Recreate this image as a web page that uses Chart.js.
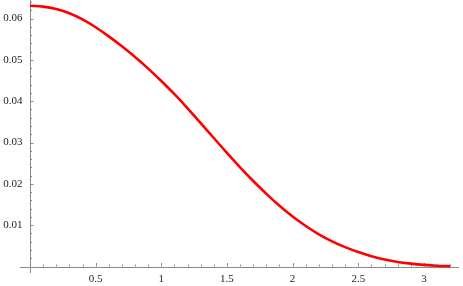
<!DOCTYPE html>
<html>
<head>
<meta charset="utf-8">
<script src="https://cdn.jsdelivr.net/npm/chart.js@4.4.0/dist/chart.umd.min.js"></script>
<style>
  html, body { margin: 0; padding: 0; background: #fff; }
  canvas { display: block; }
</style>
</head>
<body>
<canvas id="plot" width="463" height="286"></canvas>
<script>
// values
const xs = [0, 0.1, 0.2, 0.3, 0.4, 0.5, 0.6, 0.7, 0.8, 0.9, 1.0, 1.1, 1.2, 1.3, 1.4, 1.5,
            1.6, 1.7, 1.8, 1.9, 2.0, 2.1, 2.2, 2.3, 2.4, 2.5, 2.6, 2.7, 2.8, 2.9, 3.0, 3.1, 3.2];
const ys = [0.0631, 0.0629, 0.0623, 0.0613, 0.0598, 0.0579, 0.0557, 0.0533, 0.0507, 0.0479,
            0.0449, 0.0417, 0.0383, 0.0347, 0.0311, 0.0275, 0.0240, 0.0207, 0.0176, 0.0147,
            0.0121, 0.0098, 0.0078, 0.0061, 0.0047, 0.0035, 0.0025, 0.0017, 0.0011, 0.0007,
            0.0004, 0.0002, 0.0001];
const xTicks = [0.5, 1, 1.5, 2, 2.5, 3];
const xTickLabels = ['0.5', '1', '1.5', '2', '2.5', '3'];
const yTicks = [0.01, 0.02, 0.03, 0.04, 0.05, 0.06];
const yTickLabels = ['0.01', '0.02', '0.03', '0.04', '0.05', '0.06'];

const points = xs.map((x, i) => ({ x: x, y: ys[i] }));

// Mathematica style axes drawn through the chart's scales
const axesPlugin = {
  id: 'mmaAxes',
  beforeDatasetsDraw(chart) {
    const ctx = chart.ctx;
    const sx = chart.scales.x, sy = chart.scales.y;
    const area = chart.chartArea;
    const x0 = sx.getPixelForValue(0), y0 = sy.getPixelForValue(0);
    ctx.save();
    ctx.strokeStyle = '#8a8a8a';
    ctx.lineWidth = 1;
    ctx.beginPath();
    ctx.moveTo(area.left, Math.round(y0) + 0.5);
    ctx.lineTo(area.right, Math.round(y0) + 0.5);
    ctx.moveTo(Math.round(x0) + 0.5, area.top);
    ctx.lineTo(Math.round(x0) + 0.5, area.bottom);
    // x ticks
    for (let k = 1; k <= 32; k++) {
      const v = k / 10;
      const px = Math.round(sx.getPixelForValue(v)) + 0.5;
      const len = (k % 5 === 0) ? 3.5 : 2;
      ctx.moveTo(px, y0);
      ctx.lineTo(px, y0 - len);
    }
    // y ticks
    for (let k = 1; k <= 32; k++) {
      const v = k * 0.002;
      const py = Math.round(sy.getPixelForValue(v)) + 0.5;
      const len = (k % 5 === 0) ? 3.5 : 2;
      ctx.moveTo(x0, py);
      ctx.lineTo(x0 + len, py);
    }
    ctx.stroke();

    ctx.fillStyle = '#222';
    ctx.font = '11px "Liberation Serif", "Times New Roman", serif';
    ctx.textAlign = 'center';
    ctx.textBaseline = 'middle';
    xTicks.forEach((v, i) => {
      ctx.fillText(xTickLabels[i], sx.getPixelForValue(v), y0 + 13);
    });
    ctx.textAlign = 'right';
    yTicks.forEach((v, i) => {
      ctx.fillText(yTickLabels[i], x0 - 7.5, sy.getPixelForValue(v));
    });
    ctx.restore();
  }
};

new Chart(document.getElementById('plot').getContext('2d'), {
  type: 'line',
  data: {
    datasets: [{
      data: points,
      borderColor: '#ff0000',
      borderWidth: 2.6,
      pointRadius: 0,
      fill: false,
      tension: 0.4,
      clip: false
    }]
  },
  options: {
    responsive: false,
    animation: false,
    layout: { padding: { left: 20, right: 4, top: 0, bottom: 13 } },
    plugins: { legend: { display: false }, tooltip: { enabled: false } },
    scales: {
      x: { type: 'linear', min: -0.076, max: 3.267, display: false },
      y: { type: 'linear', min: -0.00157, max: 0.0645, display: false }
    }
  },
  plugins: [axesPlugin]
});
</script>
</body>
</html>
